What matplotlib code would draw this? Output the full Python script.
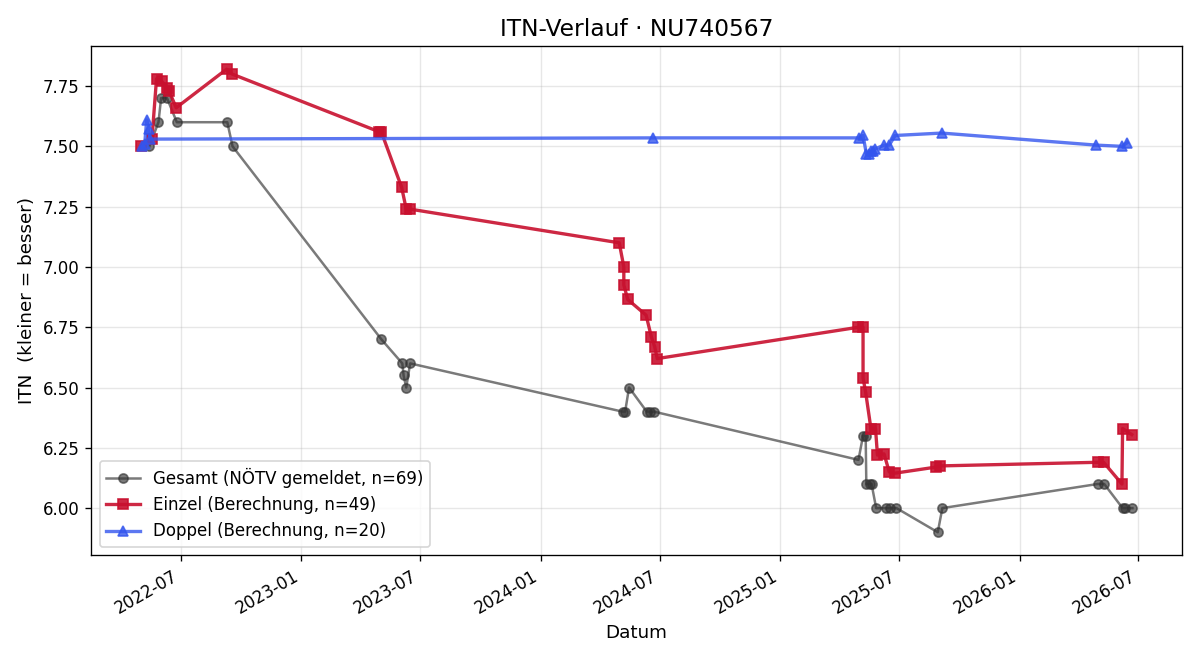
import matplotlib
matplotlib.use("Agg")
import matplotlib.pyplot as plt
import matplotlib.dates as mdates
import pandas as pd

gesamt_dates = ["2022-05-14", "2022-05-28", "2022-06-01", "2022-06-10", "2022-06-25",
                "2022-09-10", "2022-09-18", "2023-05-03", "2023-06-04", "2023-06-06",
                "2023-06-10", "2023-06-16", "2024-05-05", "2024-05-09", "2024-05-15",
                "2024-06-11", "2024-06-16", "2024-06-22", "2025-04-30", "2025-05-07",
                "2025-05-11", "2025-05-12", "2025-05-17", "2025-05-20", "2025-05-27",
                "2025-06-11", "2025-06-17", "2025-06-27", "2025-08-29", "2025-09-05",
                "2026-04-30", "2026-05-10", "2026-06-07", "2026-06-10", "2026-06-22"]
gesamt_values = [7.50, 7.60, 7.70, 7.70, 7.60,
                 7.60, 7.50, 6.70, 6.60, 6.55,
                 6.50, 6.60, 6.40, 6.40, 6.50,
                 6.40, 6.40, 6.40, 6.20, 6.30,
                 6.30, 6.10, 6.10, 6.10, 6.00,
                 6.00, 6.00, 6.00, 5.90, 6.00,
                 6.10, 6.10, 6.00, 6.00, 6.00]

einzel_dates = ["2022-05-01", "2022-05-18", "2022-05-25", "2022-06-02", "2022-06-10",
                "2022-06-13", "2022-06-24", "2022-09-09", "2022-09-17", "2023-04-30",
                "2023-05-03", "2023-06-03", "2023-06-10", "2023-06-15", "2024-04-30",
                "2024-05-07", "2024-05-07", "2024-05-13", "2024-06-10", "2024-06-18",
                "2024-06-23", "2024-06-27", "2025-04-30", "2025-05-07", "2025-05-07",
                "2025-05-11", "2025-05-19", "2025-05-26", "2025-05-29", "2025-06-08",
                "2025-06-16", "2025-06-25", "2025-08-26", "2025-09-02", "2026-04-30",
                "2026-05-09", "2026-06-06", "2026-06-07", "2026-06-21"]
einzel_values = [7.50, 7.53, 7.78, 7.77, 7.74,
                 7.73, 7.66, 7.82, 7.80, 7.56,
                 7.56, 7.33, 7.24, 7.24, 7.10,
                 7.00, 6.925, 6.865, 6.80, 6.71,
                 6.67, 6.62, 6.75, 6.75, 6.54,
                 6.48, 6.33, 6.33, 6.22, 6.225,
                 6.15, 6.145, 6.17, 6.175, 6.19,
                 6.19, 6.10, 6.33, 6.305]

doppel_dates = ["2022-05-03", "2022-05-07", "2022-05-10", "2022-05-13", "2022-05-15",
                "2024-06-21", "2025-05-01", "2025-05-07", "2025-05-12", "2025-05-16",
                "2025-05-19", "2025-05-22", "2025-05-26", "2025-06-08", "2025-06-16",
                "2025-06-25", "2025-09-04", "2026-04-28", "2026-06-06", "2026-06-14"]
doppel_values = [7.50, 7.51, 7.61, 7.57, 7.53,
                 7.535, 7.535, 7.545, 7.47, 7.47,
                 7.48, 7.48, 7.49, 7.505, 7.505,
                 7.545, 7.555, 7.505, 7.50, 7.515]

fig, ax = plt.subplots(figsize=(10, 5.5), dpi=120)

ax.plot(pd.to_datetime(gesamt_dates), gesamt_values, marker="o", color="#333333",
        alpha=0.65, lw=1.5, ms=5.5, label="Gesamt (NÖTV gemeldet, n=69)")
ax.plot(pd.to_datetime(einzel_dates), einzel_values, marker="s", color="#C8102E",
        alpha=0.9, lw=2, ms=6.5, label="Einzel (Berechnung, n=49)")
ax.plot(pd.to_datetime(doppel_dates), doppel_values, marker="^", color="#3355EE",
        alpha=0.8, lw=2, ms=6.5, label="Doppel (Berechnung, n=20)")

ax.set_title("ITN-Verlauf · NU740567", fontsize=14)
ax.set_xlabel("Datum", fontsize=11)
ax.set_ylabel("ITN  (kleiner = besser)", fontsize=11)
ax.grid(True, alpha=0.3)
ax.xaxis.set_major_locator(mdates.MonthLocator(bymonth=[1, 7]))
ax.xaxis.set_major_formatter(mdates.DateFormatter("%Y-%m"))
ax.legend(loc="lower left", fontsize=10)
fig.autofmt_xdate()
fig.tight_layout()
fig.savefig("out.png", dpi=120)
